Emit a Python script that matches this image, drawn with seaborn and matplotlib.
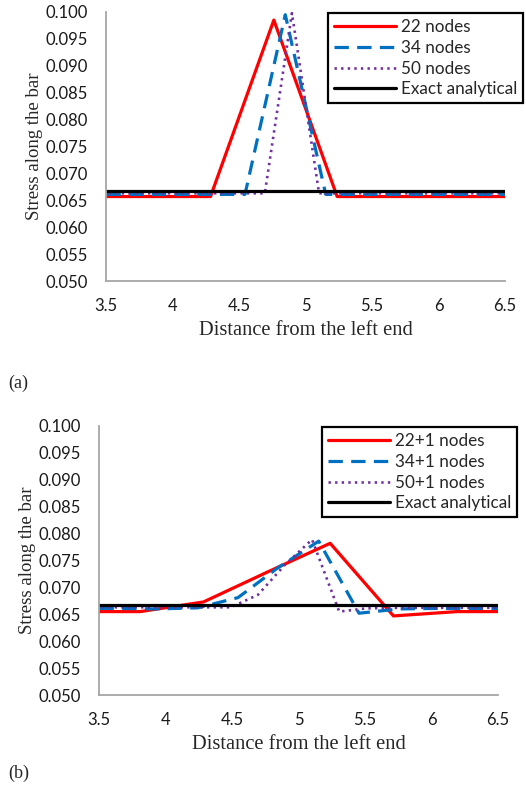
import seaborn as sns
import matplotlib.pyplot as plt

# (a) nodal stresses near the load, uniform meshes
x22 = [3.333, 3.810, 4.286, 4.762, 5.238, 5.714, 6.190, 6.667]
s22 = [0.0657, 0.0657, 0.0657, 0.0985, 0.0657, 0.0657, 0.0657, 0.0657]
x34 = [3.333, 3.636, 3.939, 4.242, 4.545, 4.848, 5.152, 5.455, 5.758, 6.061, 6.364, 6.667]
s34 = [0.0661, 0.0661, 0.0661, 0.0661, 0.0661, 0.0995, 0.0661, 0.0661, 0.0661, 0.0661, 0.0661, 0.0661]
x50 = [3.469, 3.673, 3.878, 4.082, 4.286, 4.490, 4.694, 4.898, 5.102, 5.306, 5.510, 5.714,
       5.918, 6.122, 6.327, 6.531]
s50 = [0.0663, 0.0663, 0.0663, 0.0663, 0.0663, 0.0663, 0.0663, 0.0998, 0.0663, 0.0663, 0.0663, 0.0663,
       0.0663, 0.0663, 0.0663, 0.0663]

# (b) same meshes with one extra node
s22b = [0.0655, 0.0655, 0.0673, 0.0728, 0.0782, 0.0647, 0.0655, 0.0655]
s34b = [0.0661, 0.0661, 0.0660, 0.0662, 0.0681, 0.0737, 0.0786, 0.0652, 0.0660, 0.0661, 0.0661, 0.0661]
s50b = [0.0663, 0.0663, 0.0663, 0.0663, 0.0663, 0.0663, 0.0686, 0.0742, 0.0789, 0.0655, 0.0661, 0.0662,
        0.0662, 0.0662, 0.0662, 0.0662]

x_exact = [3.3, 6.7]
s_exact = [0.0667, 0.0667]

labels_a = ["22 nodes", "34 nodes", "50 nodes", "Exact analytical"]
labels_b = ["22+1 nodes", "34+1 nodes", "50+1 nodes", "Exact analytical"]
xticks = [3.5, 4, 4.5, 5, 5.5, 6, 6.5]
xticklabels = ["3.5", "4", "4.5", "5", "5.5", "6", "6.5"]
yticks = [0.050, 0.055, 0.060, 0.065, 0.070, 0.075, 0.080, 0.085, 0.090, 0.095, 0.100]

sns.set_style("white")
plt.rcParams['font.family'] = ['Lato', 'DejaVu Sans']

fig = plt.figure(figsize=(5.26, 7.91), dpi=100)
W, H = 526, 791


def panel(box, series, labels, leg_box):
    l, t, r, b = box
    ax = fig.add_axes([l / W, 1 - b / H, (r - l) / W, (b - t) / H])
    styles = [
        dict(color="#FF0000", lw=2.3, linestyle="-"),
        dict(color="#0070C0", lw=2.3, linestyle=(0, (4.5, 2.6))),
        dict(color="#7030A0", lw=1.9, linestyle=(0, (0.9, 1.6))),
        dict(color="black", lw=2.3, linestyle="-"),
    ]
    for (xs, ys), lab, st in zip(series, labels, styles):
        sns.lineplot(x=xs, y=ys, ax=ax, label=lab, sort=False, **st)
    ax.set_xlim(3.5, 6.5)
    ax.set_ylim(0.05, 0.1)
    ax.set_xticks(xticks)
    ax.set_xticklabels(xticklabels)
    ax.set_yticks(yticks)
    ax.set_yticklabels([f"{v:.3f}" for v in yticks])
    for s in ["top", "right"]:
        ax.spines[s].set_visible(False)
    for s in ["left", "bottom"]:
        ax.spines[s].set_color("#A6A6A6")
        ax.spines[s].set_linewidth(1.3)
    ax.tick_params(axis="both", direction="out", length=5, width=1.2, color="#A6A6A6",
                   labelsize=12, labelcolor="#1a1a1a")
    ax.tick_params(axis="x", pad=7)
    ax.tick_params(axis="y", pad=8)
    ax.set_xlabel("Distance from the left end", family="Liberation Serif", fontsize=14.8, labelpad=5)
    ax.set_ylabel("Stress along the bar", family="Liberation Serif", fontsize=13.5, labelpad=2)
    lx, ly = leg_box
    leg = ax.legend(loc="upper right", bbox_to_anchor=(lx / W, 1 - ly / H),
                    bbox_transform=fig.transFigure, borderaxespad=0, frameon=True,
                    fancybox=False, fontsize=12.3, handlelength=3.6, handletextpad=0.3,
                    labelspacing=0.28, borderpad=0.35)
    leg.get_frame().set_edgecolor("black")
    leg.get_frame().set_linewidth(1.6)
    leg.get_frame().set_alpha(1)
    return ax


panel((106, 12, 505, 281),
      [(x22, s22), (x34, s34), (x50, s50), (x_exact, s_exact)],
      labels_a, (523, 13))
panel((99, 426, 498, 695),
      [(x22, s22b), (x34, s34b), (x50, s50b), (x_exact, s_exact)],
      labels_b, (517, 427))

fig.text(8 / W, 1 - 383 / H, "(a)", family="Liberation Serif", fontsize=13, va="center")
fig.text(8 / W, 1 - 773 / H, "(b)", family="Liberation Serif", fontsize=13, va="center")

fig.savefig("out.png", dpi=100)
